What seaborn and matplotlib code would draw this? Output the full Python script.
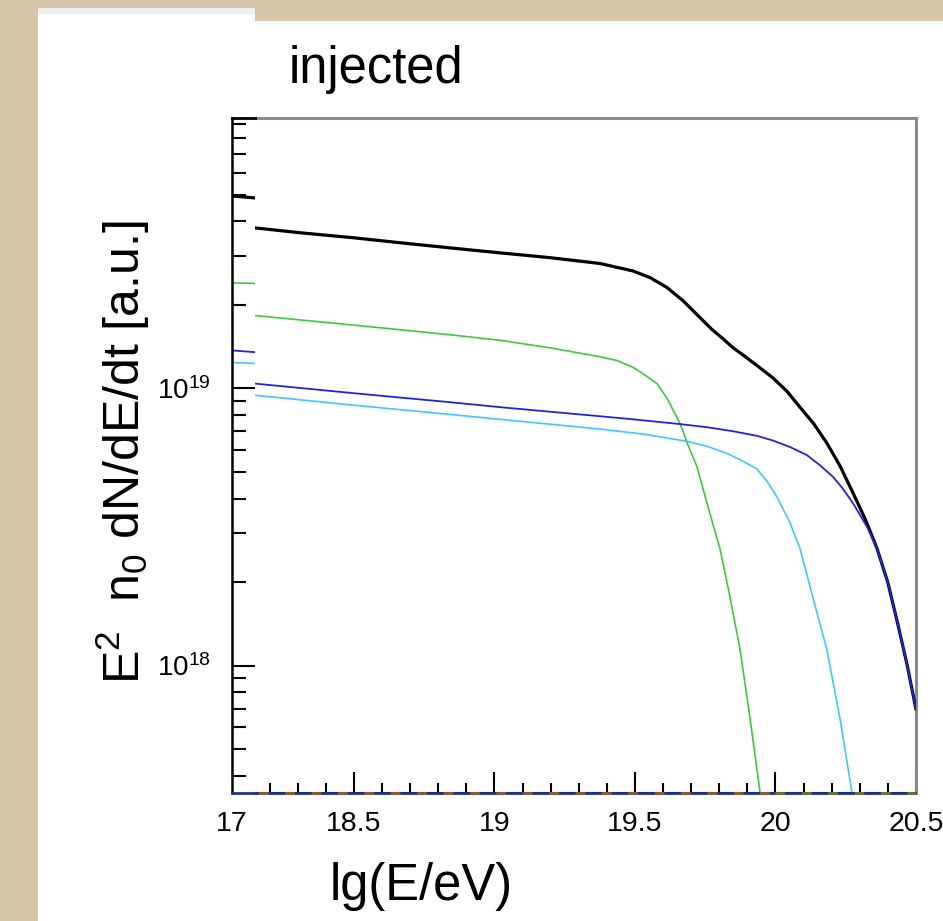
import numpy as np
import pandas as pd
import matplotlib
matplotlib.use("Agg")
import matplotlib.pyplot as plt
from matplotlib.patches import Rectangle
from matplotlib.ticker import FixedLocator, FixedFormatter, LogLocator, NullFormatter
import seaborn as sns

# ---------------- data ----------------
# total injected spectrum (black)
total_lg = [18.148, 18.308, 18.5, 18.664, 18.842, 19.020, 19.197, 19.375, 19.493,
            19.553, 19.614, 19.671, 19.731, 19.774, 19.813, 19.849, 19.884, 19.938,
            19.991, 20.041, 20.087, 20.137, 20.183, 20.230, 20.276, 20.319, 20.361,
            20.400, 20.436, 20.468, 20.5]
total_val = [3.79e19, 3.64e19, 3.49e19, 3.35e19, 3.21e19, 3.08e19, 2.96e19, 2.82e19,
             2.65e19, 2.51e19, 2.31e19, 2.07e19, 1.80e19, 1.63e19, 1.51e19, 1.40e19,
             1.32e19, 1.20e19, 1.09e19, 9.75e18, 8.55e18, 7.43e18, 6.34e18, 5.24e18,
             4.19e18, 3.38e18, 2.65e18, 1.99e18, 1.40e18, 1.01e18, 6.95e17]

# light component (green)
green_lg = [18.148, 18.5, 18.842, 19.020, 19.197, 19.375, 19.436, 19.493, 19.528,
            19.578, 19.614, 19.660, 19.689, 19.721, 19.760, 19.802, 19.838, 19.874,
            19.909, 19.945]
green_val = [1.83e19, 1.69e19, 1.56e19, 1.49e19, 1.40e19, 1.30e19, 1.26e19, 1.19e19,
             1.13e19, 1.04e19, 9.20e18, 7.48e18, 6.24e18, 5.20e18, 3.73e18, 2.65e18,
             1.77e18, 1.14e18, 6.50e17, 3.49e17]

# heavy component (blue)
blue_lg = [18.148, 18.5, 18.842, 19.020, 19.375, 19.493, 19.660, 19.756, 19.849,
           19.934, 19.991, 20.052, 20.112, 20.158, 20.205, 20.240, 20.276, 20.326,
           20.361, 20.400, 20.436, 20.468, 20.5]
blue_val = [1.04e19, 9.60e18, 8.91e18, 8.55e18, 7.93e18, 7.73e18, 7.43e18, 7.24e18,
            7.00e18, 6.74e18, 6.48e18, 6.14e18, 5.74e18, 5.28e18, 4.79e18, 4.34e18,
            3.85e18, 3.16e18, 2.65e18, 1.99e18, 1.40e18, 1.01e18, 6.95e17]

# intermediate component (cyan)
cyan_lg = [18.148, 18.5, 18.842, 19.020, 19.375, 19.528, 19.685, 19.756, 19.827,
           19.884, 19.934, 19.970, 20.005, 20.027, 20.052, 20.069, 20.087, 20.133,
           20.183, 20.230, 20.272]
cyan_val = [9.44e18, 8.69e18, 8.05e18, 7.73e18, 7.13e18, 6.84e18, 6.44e18, 6.18e18,
            5.83e18, 5.46e18, 5.12e18, 4.62e18, 4.06e18, 3.67e18, 3.27e18, 2.94e18,
            2.65e18, 1.76e18, 1.14e18, 6.40e17, 3.49e17]

# components lying at the lower edge of the frame
floor_a_lg = [18.066, 20.0]
floor_b_lg = [20.0, 20.5]

# left-hand strip of the neighbouring panel (starts at lg E = 17)
strip_lg = [17.0, 17.118]
strip_total = [4.94e19, 4.86e19]
strip_green = [2.40e19, 2.39e19]
strip_blue = [1.37e19, 1.35e19]
strip_cyan = [1.24e19, 1.23e19]

x_ticks = [18.5, 19.0, 19.5, 20.0, 20.5]
x_tick_labels = ["18.5", "19", "19.5", "20", "20.5"]
y_ticks = [1e18, 1e19]
y_tick_labels = [r"$10^{18}$", r"$10^{19}$"]

X_MIN, X_MAX = 18.066, 20.5
Y_MIN, Y_MAX = 3.47e17, 9.44e19

# ---------------- style ----------------
sns.set_style("white")
plt.rcParams["font.family"] = ["Liberation Sans", "DejaVu Sans"]
plt.rcParams["mathtext.fontset"] = "custom"
plt.rcParams["mathtext.rm"] = "Liberation Sans"
plt.rcParams["mathtext.it"] = "Liberation Sans"
plt.rcParams["mathtext.default"] = "regular"
for key in ["text.color", "axes.labelcolor", "xtick.color", "ytick.color"]:
    plt.rcParams[key] = "black"

W, H = 943, 921
fig = plt.figure(figsize=(W / 100, H / 100), dpi=100)
fig.patch.set_facecolor("#d7c6a9")


def fx(px):
    return px / W


def fy(py):
    return 1 - py / H


# white page behind the panel
fig.add_artist(Rectangle((fx(38), 0), fx(905), 900 / H, transform=fig.transFigure,
                         facecolor="white", edgecolor="none", zorder=-5))

# ---------------- main panel ----------------
ax = fig.add_axes([fx(232), fy(793), fx(684), (793 - 118) / H])
ax.set_zorder(0)
ax.set_facecolor("white")

df_total = pd.DataFrame({"lg": total_lg, "v": total_val})
df_green = pd.DataFrame({"lg": green_lg, "v": green_val})
df_blue = pd.DataFrame({"lg": blue_lg, "v": blue_val})
df_cyan = pd.DataFrame({"lg": cyan_lg, "v": cyan_val})

line_kw = dict(estimator=None, sort=False, legend=False)
sns.lineplot(data=df_total, x="lg", y="v", ax=ax, color="black", linewidth=2.3,
             zorder=3, **line_kw)
sns.lineplot(data=df_green, x="lg", y="v", ax=ax, color="#3ccb3c", linewidth=1.2,
             zorder=4, **line_kw)
sns.lineplot(data=df_cyan, x="lg", y="v", ax=ax, color="#3fc8ff", linewidth=1.2,
             zorder=4, **line_kw)
sns.lineplot(data=df_blue, x="lg", y="v", ax=ax, color="#2222e6", linewidth=1.3,
             zorder=5, **line_kw)
for ln in ax.lines:
    ln.set_solid_joinstyle("round")

# curves sitting on the lower frame edge
ax.plot(floor_a_lg + floor_b_lg[1:], [Y_MIN] * 3, color="#1f3488", lw=2.0,
        clip_on=False, zorder=6, solid_capstyle="butt")
ax.plot(floor_a_lg, [Y_MIN] * 2, color="#9a5a25", lw=2.0, clip_on=False, zorder=7,
        dashes=(3.5, 6))
ax.plot(floor_b_lg, [Y_MIN] * 2, color="#6b7a25", lw=2.0, clip_on=False, zorder=7,
        dashes=(3.5, 6))

ax.set_yscale("log")
ax.set_xlim(X_MIN, X_MAX)
ax.set_ylim(Y_MIN, Y_MAX)
ax.set_xlabel("")
ax.set_ylabel("")

ax.xaxis.set_major_locator(FixedLocator(x_ticks))
ax.xaxis.set_major_formatter(FixedFormatter(x_tick_labels))
ax.xaxis.set_minor_locator(FixedLocator(np.round(np.arange(18.1, 20.45, 0.1), 2)))
ax.tick_params(axis="x", which="major", direction="in", length=15, width=1.5,
               color="black", labelsize=20.5, pad=13, top=False, bottom=True)
ax.tick_params(axis="x", which="minor", direction="in", length=7, width=1.5,
               color="black", top=False, bottom=True)
ax.yaxis.set_major_locator(FixedLocator([]))
ax.yaxis.set_minor_locator(FixedLocator([]))

for side in ["top", "right"]:
    ax.spines[side].set_color("#8a8a8a")
    ax.spines[side].set_linewidth(2.2)
ax.spines["left"].set_visible(False)
ax.spines["bottom"].set_color("black")
ax.spines["bottom"].set_linewidth(1.5)

# ---------------- left strip (white sheet with its own axis) ----------------
fig.add_artist(Rectangle((fx(38), 0), fx(217), 913 / H, transform=fig.transFigure,
                         facecolor="white", edgecolor="none", zorder=1))
fig.add_artist(Rectangle((fx(38), fy(14)), fx(217), 6 / H, transform=fig.transFigure,
                         facecolor="#efefef", edgecolor="none", zorder=1))

axs = fig.add_axes([fx(232), fy(793), fx(23), (793 - 118) / H])
axs.set_zorder(2)
axs.patch.set_alpha(0)
for vals, col, lw in [
    (strip_total, "black", 2.3),
    (strip_green, "#3ccb3c", 1.2),
    (strip_blue, "#2222e6", 1.3),
    (strip_cyan, "#3fc8ff", 1.2),
]:
    sns.lineplot(x=strip_lg, y=vals, ax=axs, color=col, linewidth=lw, **line_kw)
axs.plot(strip_lg, [Y_MIN] * 2, color="#1f3488", lw=2.0, clip_on=False, zorder=6)

axs.set_yscale("log")
axs.set_xlim(strip_lg[0], strip_lg[1])
axs.set_ylim(Y_MIN, Y_MAX)
axs.set_xlabel("")
axs.set_ylabel("")
axs.xaxis.set_major_locator(FixedLocator([17.0]))
axs.xaxis.set_major_formatter(FixedFormatter(["17"]))
axs.tick_params(axis="x", which="major", length=0, labelsize=20.5, pad=13)
axs.xaxis.set_minor_locator(FixedLocator([]))
axs.yaxis.set_major_locator(FixedLocator(y_ticks))
axs.yaxis.set_major_formatter(FixedFormatter(y_tick_labels))
axs.yaxis.set_minor_locator(LogLocator(base=10, subs=np.arange(2, 10)))
axs.yaxis.set_minor_formatter(NullFormatter())
axs.tick_params(axis="y", which="major", direction="in", length=16.5, width=1.5,
                color="black", labelsize=20, pad=15, left=True, right=False)
axs.tick_params(axis="y", which="minor", direction="in", length=10, width=1.5,
                color="black", left=True, right=False)
axs.spines["left"].set_color("black")
axs.spines["left"].set_linewidth(1.8)
axs.spines["top"].set_color("black")
axs.spines["top"].set_linewidth(2.0)
axs.spines["right"].set_visible(False)
axs.spines["bottom"].set_visible(False)

# ---------------- texts ----------------
fig.text(fx(289), fy(83), "injected", fontsize=36.5, ha="left", va="baseline",
         zorder=3)
fig.text(fx(330), fy(900), "lg(E/eV)", fontsize=36.5, ha="left", va="baseline",
         zorder=3)
fig.text(fx(140), fy(452), r"E$^{2}$  n$_{0}$ dN/dE/dt [a.u.]", fontsize=36,
         rotation=90, rotation_mode="anchor", ha="center", va="baseline", zorder=3)

fig.savefig("out.png", dpi=100, facecolor=fig.get_facecolor())
